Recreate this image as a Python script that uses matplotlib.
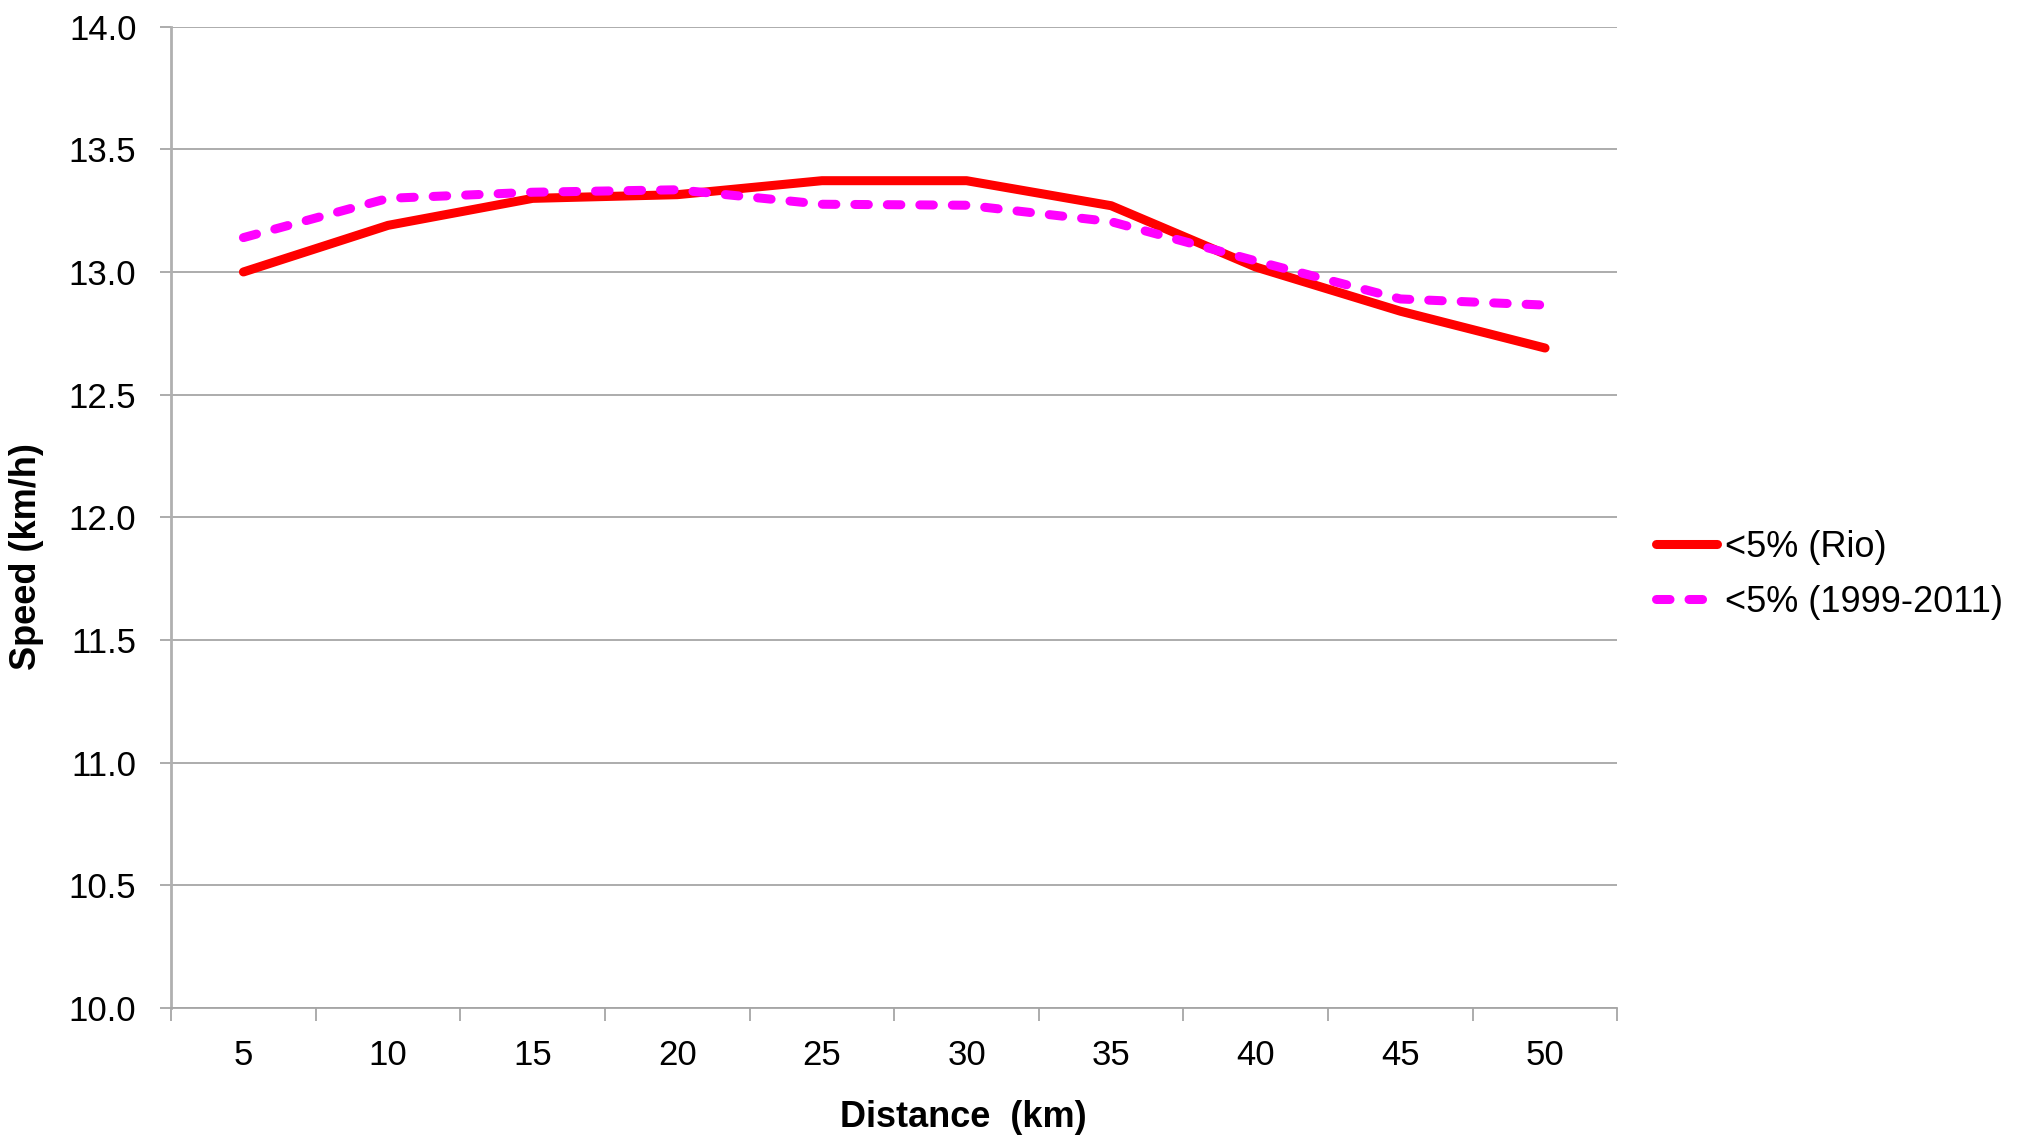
import numpy as np
import matplotlib
matplotlib.use("Agg")
import matplotlib.pyplot as plt

# ====== data ======
distance_km = [5, 10, 15, 20, 25, 30, 35, 40, 45, 50]
speed_rio = [13.00, 13.19, 13.30, 13.315, 13.372, 13.372, 13.27, 13.02, 12.84, 12.69]
speed_1999_2011 = [13.14, 13.30, 13.325, 13.335, 13.276, 13.272, 13.205, 13.045, 12.89, 12.865]
y_ticks = [10.0, 10.5, 11.0, 11.5, 12.0, 12.5, 13.0, 13.5, 14.0]

# ====== style ======
plt.rcParams['font.family'] = ['Liberation Sans', 'DejaVu Sans']
grid_col = '#a6a6a6'
fs = 25

fig = plt.figure(figsize=(20.37, 11.37), dpi=100)
ax = fig.add_axes([0.084, 0.1134, 0.71, 0.8632])

ax.plot(distance_km, speed_rio, color='#ff0000', linewidth=6.5,
        solid_capstyle='round', solid_joinstyle='round', label='<5% (Rio)')
ax.plot(distance_km, speed_1999_2011, color='#ff00ff', linewidth=6.5,
        dashes=(1.5, 2.1), dash_capstyle='round', dash_joinstyle='round',
        label='<5% (1999-2011)')

ax.set_ylim(10, 14)
ax.set_xlim(2.5, 52.5)
ax.set_yticks(y_ticks)
ax.set_yticklabels([f"{v:.1f}" for v in y_ticks])
ax.set_xticks(distance_km)
ax.set_xticks(np.arange(2.5, 53, 5), minor=True)

ax.yaxis.grid(True, color=grid_col, linewidth=1.3)
ax.set_axisbelow(True)
for side in ['top', 'right']:
    ax.spines[side].set_visible(False)
ax.spines['left'].set_color('#b0b0b0')
ax.spines['left'].set_linewidth(2)
ax.spines['bottom'].set_color(grid_col)
ax.spines['bottom'].set_linewidth(1.3)

ax.tick_params(axis='y', direction='out', length=8, width=1.3, color=grid_col,
               labelsize=fs, pad=17)
ax.tick_params(axis='x', which='major', length=0, labelsize=fs, pad=22)
ax.tick_params(axis='x', which='minor', direction='out', length=9, width=1.3,
               color=grid_col)

ax.set_xlabel('Distance  (km)', fontsize=fs + 1, fontweight='bold')
ax.set_ylabel('Speed (km/h)', fontsize=fs + 1, fontweight='bold')
ax.xaxis.set_label_coords(0.548, -0.094)
ax.yaxis.set_label_coords(-0.088, 0.46)

ax.legend(loc='center left', bbox_to_anchor=(1656 / 2037, 1 - 575 / 1137),
          bbox_transform=fig.transFigure, frameon=False, fontsize=fs + 1,
          handlelength=1.7, handletextpad=0.2, labelspacing=0.55,
          borderpad=0, borderaxespad=0)

fig.savefig('out.png', dpi=100, facecolor='white')
